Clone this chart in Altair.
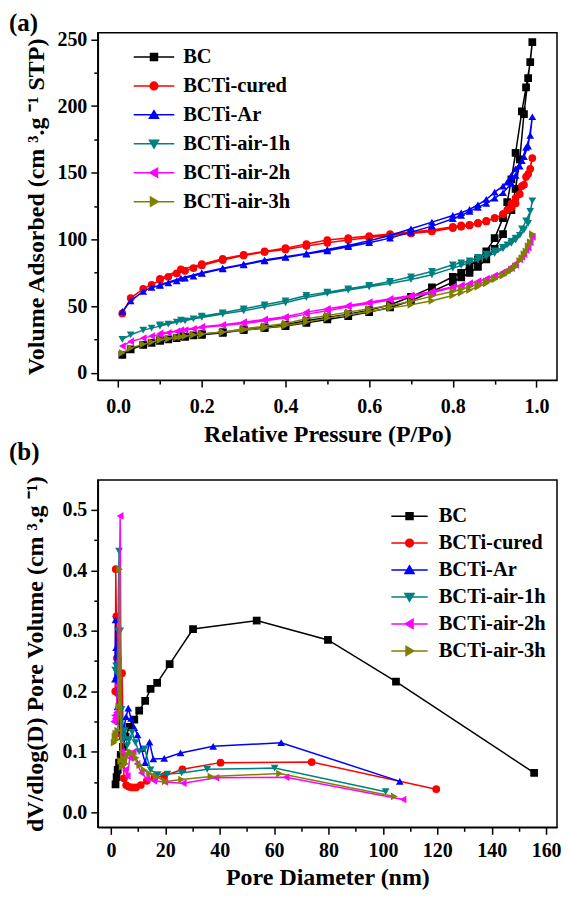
import altair as alt
import pandas as pd

series = ["BC", "BCTi-cured", "BCTi-Ar", "BCTi-air-1h", "BCTi-air-2h", "BCTi-air-3h"]
colors = ["#000000", "#FF0000", "#0000FF", "#008080", "#FF00FF", "#808000"]
shapes = ["square", "circle", "triangle-up", "triangle-down", "triangle-left", "triangle-right"]
panel_labels = ["(a)", "(b)"]

# ---- (a) N2 isotherms: adsorption then desorption branch ----
ads_p = [0.01, 0.03, 0.06, 0.08, 0.10, 0.12, 0.14, 0.16, 0.18, 0.20, 0.25, 0.30, 0.35, 0.40,
         0.45, 0.50, 0.55, 0.60, 0.65, 0.70, 0.75, 0.80, 0.82, 0.84, 0.86, 0.88, 0.90, 0.92,
         0.94, 0.95, 0.96, 0.97, 0.98, 0.99]
des_p = [0.985, 0.975, 0.965, 0.95, 0.94, 0.93, 0.92, 0.90, 0.88, 0.86, 0.84, 0.82, 0.80, 0.75,
         0.70, 0.65, 0.60, 0.55, 0.50, 0.45, 0.40, 0.35, 0.30, 0.25, 0.20, 0.15, 0.10]

bc_ads = [13.5, 17.5, 21, 22.5, 24, 25, 26, 27, 28, 28.5, 30, 32, 33.5, 35, 37.5, 40, 42.5, 45.5,
          49, 54, 61, 68, 71.5, 75, 79.5, 85, 93, 104, 122, 138, 160, 194, 221, 248]
bc_des = [233, 214, 196, 165, 145, 128, 116, 101, 91, 85, 80, 75, 72, 64, 57, 51, 47, 44, 41.5,
          39, 36, 34, 32.5, 30.5, 29, 27.5, 24.5]
cured_ads = [44.5, 56, 63, 66, 69.5, 72, 74.5, 76.5, 78.5, 80.5, 84.5, 88, 90.5, 92.5, 95, 97.5,
             99.5, 101.5, 103, 104.5, 106, 108.5, 109.5, 110.5, 112, 113.5, 116, 119, 124, 127,
             134, 141, 149, 161]
cured_des = [153, 147, 140, 131, 127, 122, 119, 116, 114, 112.5, 111, 110.5, 109.5, 107, 105.5,
             104, 102.5, 101, 99.5, 96.5, 93.5, 91, 88.5, 85.5, 81.5, 77.5, 70.5]
ar_ads = [46, 54, 61, 64, 65.5, 67.5, 69, 71, 72.5, 74.5, 78, 81, 84, 86.5, 89, 91.5, 94.5, 97.5,
          101, 105.5, 110, 115.5, 118, 121, 124, 127, 131, 135, 142, 148, 155, 162, 170, 192]
ar_des = [178, 169, 159, 153, 148, 143, 140, 135.5, 130, 126, 122.5, 120, 118, 113, 108, 103, 99,
          95.5, 92.5, 89.5, 87, 84.5, 81.5, 78.5, 75, 71, 66]
air1_ads = [25, 28.5, 32, 33.5, 35, 36.5, 38, 39, 40.5, 41.5, 44, 46.5, 49.5, 52.5, 56.5, 59.5, 62,
            64.5, 67, 70, 73.5, 78.5, 80.5, 82.5, 84.5, 87, 89.5, 93, 97, 99.5, 103, 107, 112, 129]
air1_des = [121, 114, 108, 101, 98.5, 96, 94, 91.5, 89, 86.5, 84, 82.5, 81, 76, 72, 68.5, 65.5, 63,
            60.5, 58, 54, 51, 48, 45, 42.5, 39.5, 36]
air2_ads = [20, 23.5, 26, 27.5, 28.5, 30, 31, 32, 33, 34, 35.5, 37, 39, 41, 44, 46.5, 49.5, 52,
            54.5, 57, 60, 64, 65.5, 67, 68.5, 70.5, 73, 75.5, 78.5, 81, 85, 89, 94, 102]
air2_des = [98, 92, 87, 82, 79.5, 77, 75, 72.5, 70.5, 68.5, 67, 65.5, 64.5, 61, 58, 55.5, 53, 50.5,
            48, 45.5, 42, 40, 38, 36, 34.5, 32, 29.5]
air3_ads = [15, 18.5, 21.5, 23, 24.5, 25.5, 26.5, 27.5, 28.5, 29, 30.5, 32, 33.5, 35.5, 38, 41,
            43.5, 46, 48.5, 51, 54, 58, 60, 62, 64.5, 67, 70, 73, 77, 79.5, 84, 89, 95, 104]
air3_des = [98, 91, 86, 80, 77, 75, 73, 71, 68.5, 66.5, 64.5, 62.5, 61, 57.5, 53.5, 50.5, 48, 45.5,
            43, 40.5, 37, 35, 33, 30.5, 29, 27, 25]

iso_ads = [bc_ads, cured_ads, ar_ads, air1_ads, air2_ads, air3_ads]
iso_des = [bc_des, cured_des, ar_des, air1_des, air2_des, air3_des]

# ---- (b) pore size distribution ----
bc_d = [1.7, 2.1, 2.5, 3.0, 3.6, 4.4, 5.4, 6.8, 8.6, 10.4, 12.6, 14.6, 17.0, 21.6, 30.2, 53.6,
        79.8, 104.8, 155.6]
bc_v = [0.046, 0.058, 0.070, 0.082, 0.095, 0.108, 0.125, 0.141, 0.153, 0.168, 0.184, 0.204,
        0.214, 0.245, 0.303, 0.317, 0.285, 0.216, 0.065]
cured_d = [1.6, 1.8, 2.0, 2.2, 2.5, 2.9, 3.4, 4.1, 4.8, 5.6, 6.6, 7.8, 9.2, 11.0, 13.2, 16.0, 19.6,
           26.3, 40.3, 73.8, 119.6]
cured_v = [0.20, 0.402, 0.324, 0.255, 0.197, 0.16, 0.13, 0.23, 0.056, 0.045, 0.042, 0.041, 0.041,
           0.045, 0.052, 0.058, 0.060, 0.071, 0.082, 0.083, 0.038]
ar_d = [1.5, 1.7, 1.9, 2.1, 2.4, 2.8, 3.3, 4.0, 4.8, 5.6, 6.4, 7.4, 8.6, 9.8, 11.2, 12.6, 14.2,
        15.6, 19.6, 25.6, 37.6, 62.6, 106.2]
ar_v = [0.22, 0.318, 0.272, 0.226, 0.174, 0.15, 0.135, 0.125, 0.14, 0.158, 0.172, 0.155, 0.14,
        0.128, 0.105, 0.082, 0.116, 0.088, 0.089, 0.098, 0.109, 0.115, 0.051]
air1_d = [1.6, 1.9, 2.2, 2.6, 3.0, 3.4, 3.9, 4.5, 5.2, 6.0, 6.8, 7.8, 9.0, 10.4, 12.4, 14.6, 17.2,
          20.8, 26.0, 35.4, 60.2, 101.0]
air1_v = [0.235, 0.242, 0.23, 0.30, 0.432, 0.30, 0.17, 0.12, 0.135, 0.11, 0.12, 0.132, 0.115, 0.10,
          0.105, 0.07, 0.062, 0.063, 0.065, 0.071, 0.073, 0.034]
air2_d = [1.0, 1.3, 1.6, 2.0, 2.4, 2.8, 3.4, 3.9, 4.5, 5.2, 6.0, 7.0, 8.2, 9.6, 11.2, 13.2, 15.8,
          19.8, 26.6, 38.6, 64.4, 107.4]
air2_v = [0.15, 0.16, 0.155, 0.165, 0.21, 0.25, 0.49, 0.10, 0.085, 0.07, 0.06, 0.09, 0.10, 0.08,
          0.065, 0.055, 0.052, 0.05, 0.048, 0.057, 0.058, 0.021]
air3_d = [1.2, 1.5, 1.8, 2.1, 2.5, 2.9, 3.2, 3.6, 4.1, 4.7, 5.4, 6.2, 7.0, 8.0, 9.2, 10.6, 12.2,
          14.2, 16.6, 20.0, 26.0, 36.8, 62.0, 104.2]
air3_v = [0.115, 0.125, 0.13, 0.12, 0.135, 0.175, 0.402, 0.085, 0.075, 0.09, 0.08, 0.095, 0.10,
          0.098, 0.09, 0.078, 0.07, 0.064, 0.059, 0.051, 0.054, 0.059, 0.064, 0.026]

psd_d = [bc_d, cured_d, ar_d, air1_d, air2_d, air3_d]
psd_v = [bc_v, cured_v, ar_v, air1_v, air2_v, air3_v]

# axis ticks
xa_ticks = [round(i * 0.1, 1) for i in range(11)]
ya_ticks = [i * 25 for i in range(11)]
xb_ticks = [i * 10 for i in range(17)]
yb_ticks = [round(i * 0.05, 2) for i in range(11)]

# ---- tables ----
rows_a = []
for s, a, d in zip(series, iso_ads, iso_des):
    k = 0
    for p, v in zip(ads_p, a):
        rows_a.append({"series": s, "x": p, "y": v, "idx": k}); k += 1
    for p, v in zip(des_p, d):
        rows_a.append({"series": s, "x": p, "y": v, "idx": k}); k += 1
df_a = pd.DataFrame(rows_a)

rows_b = []
for s, dd, vv in zip(series, psd_d, psd_v):
    for k, (p, v) in enumerate(zip(dd, vv)):
        rows_b.append({"series": s, "x": p, "y": v, "idx": k})
df_b = pd.DataFrame(rows_b)

FONT = "Liberation Serif"
BLACK = "#000000"


def leg_paths(h):
    # legend symbols: line + marker (custom paths, unit scaled by sqrt(size)/2)
    line = f"M-{h},0H{h}"
    return [
        line + "M-0.5,-0.5H0.5V0.5H-0.5Z",
        line + "M-0.55,0A0.55,0.55 0 1,1 0.55,0A0.55,0.55 0 1,1 -0.55,0Z",
        line + "M0,-0.6L0.65,0.5L-0.65,0.5Z",
        line + "M0,0.6L0.65,-0.5L-0.65,-0.5Z",
        line + "M-0.6,0L0.5,-0.65L0.5,0.65Z",
        line + "M0.6,0L-0.5,-0.65L-0.5,0.65Z",
    ]


def tick_cond(test):
    return {"condition": {"test": test, "value": 7}, "value": 4}


def panel(df, xdom, ydom, xaxis, yaxis, W, H, legend_xy, row_pad, half_line, label, label_y):
    xenc = alt.X("x:Q", scale=alt.Scale(domain=xdom, nice=False, zero=False), axis=xaxis)
    yenc = alt.Y("y:Q", scale=alt.Scale(domain=ydom, nice=False, zero=False), axis=yaxis)
    layers = []
    for s, c, sh in zip(series, colors, shapes):
        base = alt.Chart(df).transform_filter(alt.datum.series == s)
        layers.append(
            base.mark_line(strokeWidth=1.5, color=c, clip=True)
            .encode(x=xenc, y=yenc, order=alt.Order("idx:Q"))
        )
        layers.append(
            base.mark_point(shape=sh, filled=True, color=c, size=60, opacity=1, clip=True)
            .encode(x=xenc, y=yenc)
        )
    leg = alt.Legend(
        title=None, orient="none", legendX=legend_xy[0], legendY=legend_xy[1],
        symbolSize=196, symbolStrokeWidth=1.5, labelOffset=19, rowPadding=row_pad,
        padding=0, labelFont=FONT, labelFontSize=20.5, labelFontWeight="bold",
        labelColor=BLACK, labelLimit=0,
    )
    legend_layer = alt.Chart(df).transform_filter("false").mark_point(
        filled=True, opacity=1
    ).encode(
        fill=alt.Fill("series:N", scale=alt.Scale(domain=series, range=colors), legend=leg),
        stroke=alt.Stroke("series:N", scale=alt.Scale(domain=series, range=colors), legend=leg),
        shape=alt.Shape("series:N", scale=alt.Scale(domain=series, range=leg_paths(half_line)),
                        legend=leg),
    )
    lab = alt.Chart(pd.DataFrame({"t": [label]})).mark_text(
        align="left", baseline="alphabetic", font=FONT, fontWeight="bold",
        fontSize=25, color=BLACK,
    ).encode(text="t:N", x=alt.value(-89), y=alt.value(label_y))
    return alt.layer(*layers, legend_layer, lab).properties(width=W, height=H)


common_axis = dict(
    labelFont=FONT, labelFontWeight="bold", labelFontSize=20, labelColor=BLACK,
    titleFont=FONT, titleFontWeight="bold", titleFontSize=24, titleColor=BLACK,
    domainColor=BLACK, domainWidth=1.5, tickColor=BLACK, tickWidth=1.5,
    grid=False, labelFlush=False, labelOverlap=False,
)

xa_axis = alt.Axis(
    values=xa_ticks, tickSize=tick_cond("round(datum.value*10) % 2 == 0"),
    labelExpr="round(datum.value*10) % 2 == 0 ? format(datum.value, '.1f') : ''",
    title="Relative Pressure (P/Po)", labelPadding=9, titlePadding=6, **common_axis,
)
ya_axis = alt.Axis(
    values=ya_ticks, tickSize=tick_cond("datum.value % 50 == 0"),
    labelExpr="datum.value % 50 == 0 ? format(datum.value, 'd') : ''",
    title="Volume Adsorbed (cm ³.g ⁻¹ STP)", labelPadding=4, titlePadding=8, **common_axis,
)
xb_axis = alt.Axis(
    values=xb_ticks, tickSize=tick_cond("datum.value % 20 == 0"),
    labelExpr="datum.value % 20 == 0 ? format(datum.value, 'd') : ''",
    title="Pore Diameter (nm)", labelPadding=6, titlePadding=5, **common_axis,
)
yb_axis = alt.Axis(
    values=yb_ticks, tickSize=tick_cond("round(datum.value*100) % 10 == 0"),
    labelExpr="round(datum.value*100) % 10 == 0 ? format(datum.value, '.1f') : ''",
    title="dV/dlog(D) Pore Volume (cm ³.g ⁻¹)", labelPadding=4, titlePadding=14, **common_axis,
)

pa = panel(df_a, [-0.0485, 1.049], [-5.5, 255], xa_axis, ya_axis, 460, 348,
           (46, 14), 8, 2.9, panel_labels[0], -2)
pb = panel(df_b, [-4.8, 164], [-0.025, 0.5496], xb_axis, yb_axis, 460, 348,
           (302, 26), 6, 2.6, panel_labels[1], -20)

chart = alt.vconcat(pa, pb, spacing=100, bounds="flush").resolve_scale(
    fill="independent", stroke="independent", shape="independent"
).resolve_legend(
    fill="independent", stroke="independent", shape="independent"
).properties(
    padding={"left": 0, "top": 1, "right": 0, "bottom": 0}
).configure_view(stroke=BLACK, strokeWidth=1.5)

chart.save("out.html", embed_options={"renderer": "svg", "actions": False})
